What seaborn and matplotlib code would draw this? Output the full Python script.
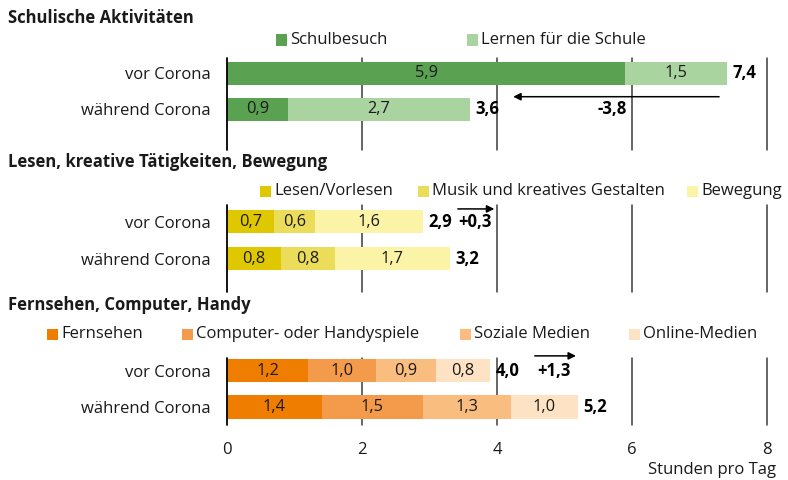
import matplotlib
matplotlib.use("Agg")
import matplotlib.pyplot as plt
from matplotlib.patches import Rectangle
import numpy as np
import pandas as pd
import seaborn as sns

# ----------------------------------------------------------------------
# data (hours per day)
# ----------------------------------------------------------------------
groups = ["vor Corona", "während Corona"]

school_title = "Schulische Aktivitäten"
school_labels = ["Schulbesuch", "Lernen für die Schule"]
school_vor = [5.9, 1.5]
school_waehrend = [0.9, 2.7]
school_totals = [7.4, 3.6]
school_change = -3.8

leisure_title = "Lesen, kreative Tätigkeiten, Bewegung"
leisure_labels = ["Lesen/Vorlesen", "Musik und kreatives Gestalten", "Bewegung"]
leisure_vor = [0.7, 0.6, 1.6]
leisure_waehrend = [0.8, 0.8, 1.7]
leisure_totals = [2.9, 3.2]
leisure_change = 0.3

media_title = "Fernsehen, Computer, Handy"
media_labels = ["Fernsehen", "Computer- oder Handyspiele", "Soziale Medien", "Online-Medien"]
media_vor = [1.2, 1.0, 0.9, 0.8]
media_waehrend = [1.4, 1.5, 1.3, 1.0]
media_totals = [4.0, 5.2]
media_change = 1.3

x_ticks = [0, 2, 4, 6, 8]
x_label = "Stunden pro Tag"

# ----------------------------------------------------------------------
W, H = 788, 480
sns.set_theme(style="white")
plt.rcParams["font.family"] = ["Open Sans", "DejaVu Sans"]

FS = 12          # regular text
FS_BAR = 11.8    # values inside bars
TXT = "#1a1a1a"

fig = plt.figure(figsize=(W / 100, H / 100), dpi=100)


def fx(px):
    return px / W


def fy(py):
    return 1 - py / H


def de(v, sign=False):
    s = f"{v:+.1f}" if sign else f"{v:.1f}"
    return s.replace(".", ",")


def legend_row(labels, colors, patch_x, y_center):
    for lab, col, px in zip(labels, colors, patch_x):
        fig.add_artist(Rectangle((fx(px), fy(y_center + 5.5)), fx(11), 11 / H,
                                 transform=fig.transFigure, color=col, lw=0))
        fig.text(fx(px + 14), fy(y_center), lab, fontsize=FS,
                 va="center", ha="left", color=TXT)


def panel(rect_px, ylim, title, title_y, labels, colors, vor, waehrend,
          totals, change, arrow, change_pos, change_ha, bar_h,
          legend_x, legend_y, bottom=False):
    top, bot = rect_px
    ax = fig.add_axes([fx(227), fy(bot), fx(540), (bot - top) / H])
    fig.text(fx(8), fy(title_y), title, fontsize=FS, fontweight="bold",
             va="center", ha="left", color=TXT)
    legend_row(labels, colors, legend_x, legend_y)

    rows = []
    for g, vals in zip(groups, [vor, waehrend]):
        ends = np.cumsum(vals)
        for lab, v, e in zip(labels, vals, ends):
            rows.append({"group": g, "segment": lab, "value": v, "end": e})
    df = pd.DataFrame(rows)

    # draw cumulative bars from the longest down so the segments stack
    for lab, col in reversed(list(zip(labels, colors))):
        sub = df[df["segment"] == lab]
        sns.barplot(data=sub, x="end", y="group", order=groups, color=col,
                    width=bar_h, orient="h", errorbar=None, linewidth=0,
                    saturation=1, ax=ax, zorder=2)
    for _, r in df.iterrows():
        yi = groups.index(r["group"])
        ax.text(r["end"] - r["value"] / 2, yi, de(r["value"]), ha="center",
                va="center", fontsize=FS_BAR, color=TXT, zorder=4)

    for yi, g in enumerate(groups):
        end = df[df["group"] == g]["end"].max()
        ax.annotate(de(totals[yi]), (end, yi), xytext=(4, 0),
                    textcoords="offset points", ha="left", va="center",
                    fontsize=FS, fontweight="bold", color="black")

    ax.annotate("", xy=(arrow[1], arrow[2]), xytext=(arrow[0], arrow[2]),
                annotation_clip=False,
                arrowprops=dict(arrowstyle="-|>", color="black", lw=1.1,
                                mutation_scale=11, shrinkA=0, shrinkB=0,
                                clip_on=False))
    ax.text(change_pos[0], change_pos[1], de(change, sign=change > 0),
            ha=change_ha, va="center", fontsize=FS, fontweight="bold",
            color="black")

    for t in x_ticks:
        ax.axvline(t, color="black" if t == 0 else "#3c3c3c", lw=1.3 if t == 0 else 1.1,
                   zorder=5 if t == 0 else 1, clip_on=False)
    ax.set_xlim(0, 8)
    ax.set_ylim(*ylim)
    ax.set_ylabel("")
    ax.set_xlabel("")
    for s in ax.spines.values():
        s.set_visible(False)
    ax.tick_params(axis="y", length=0, pad=12, labelsize=FS, labelcolor=TXT)
    ax.set_xticks(x_ticks)
    if bottom:
        ax.set_xticklabels([str(t) for t in x_ticks])
        ax.tick_params(axis="x", length=0, pad=12, labelsize=FS, labelcolor=TXT)
    else:
        ax.tick_params(axis="x", length=0, labelbottom=False)
    return ax


school_colors = ["#5ba152", "#a9d4a0"]
leisure_colors = ["#dfc800", "#ebdc5a", "#fbf3a6"]
media_colors = ["#ef7d00", "#f39b4b", "#f8bd7f", "#fde2c4"]

panel((58, 150), (2.125, -0.43), school_title, 18, school_labels, school_colors,
      school_vor, school_waehrend, school_totals, school_change,
      arrow=(7.29, 4.24, 0.645), change_pos=(5.93, 1.0), change_ha="right",
      bar_h=0.64, legend_x=[276, 467], legend_y=40)

panel((205, 292), (1.905, -0.446), leisure_title, 162, leisure_labels, leisure_colors,
      leisure_vor, leisure_waehrend, leisure_totals, leisure_change,
      arrow=(3.42, 3.96, -0.34), change_pos=(3.42, 0.0), change_ha="left",
      bar_h=0.64, legend_x=[260, 418, 687], legend_y=191)

ax3 = panel((358, 425), (1.49, -0.342), media_title, 305, media_labels, media_colors,
            media_vor, media_waehrend, media_totals, media_change,
            arrow=(4.56, 5.17, -0.40), change_pos=(4.59, 0.0), change_ha="left",
            bar_h=0.64, legend_x=[47, 182, 460, 629], legend_y=334, bottom=True)

fig.text(fx(776), fy(470), x_label, fontsize=FS, ha="right", va="center",
         color=TXT)

fig.savefig("out.png", dpi=100)
